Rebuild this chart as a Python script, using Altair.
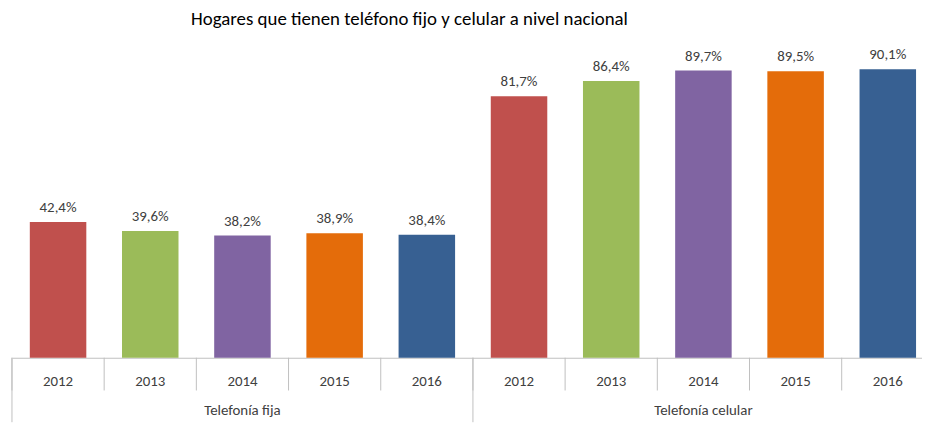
import altair as alt
import pandas as pd

# ---- data ----
groups = ["Telefonía fija"] * 5 + ["Telefonía celular"] * 5
years = ["2012", "2013", "2014", "2015", "2016"] * 2
values = [42.4, 39.6, 38.2, 38.9, 38.4, 81.7, 86.4, 89.7, 89.5, 90.1]
year_levels = ["2012", "2013", "2014", "2015", "2016"]
colors = ["#C0504D", "#9BBB59", "#8064A2", "#E46C0A", "#376092"]
title_text = "Hogares que tienen teléfono fijo y celular a nivel nacional"

df = pd.DataFrame({"group": groups, "year": years, "value": values})
df["key"] = df["group"] + " " + df["year"]
df["label"] = df["value"].map(lambda v: f"{v:.1f}".replace(".", ",") + "%")
order = list(df["key"])

FONT = "Carlito, Calibri, Open Sans, sans-serif"
H = 323
W = 930
GRID = "#BFBFBF"

xscale = alt.Scale(domain=order, paddingInner=0, paddingOuter=0)
xaxis = alt.Axis(labels=False, ticks=False, title=None, grid=False,
                 domainColor=GRID, domainWidth=1)
x = alt.X("key:N", scale=xscale, axis=xaxis)
yscale = alt.Scale(domain=[0, 100])

base = alt.Chart(df)

bars = base.mark_bar(width=57).encode(
    x=x,
    y=alt.Y("value:Q", scale=yscale, axis=None),
    color=alt.Color("year:N", scale=alt.Scale(domain=year_levels, range=colors), legend=None),
)

vlabels = base.mark_text(dy=-10, baseline="alphabetic", fontSize=15, color="#404040", font=FONT).encode(
    x=x,
    y=alt.Y("value:Q", scale=yscale, axis=None),
    text="label:N",
)

ylabels = base.mark_text(baseline="alphabetic", fontSize=15, color="#404040", font=FONT).encode(
    x=x,
    y=alt.value(H + 28),
    text="year:N",
)

glabels = base.transform_filter(alt.datum.year == "2014").mark_text(
    baseline="alphabetic", fontSize=15, color="#404040", font=FONT
).encode(
    x=x,
    y=alt.value(H + 58),
    text="group:N",
)

xr = alt.X("key:N", scale=xscale, axis=xaxis, bandPosition=0)
ticks = base.mark_rule(color=GRID, strokeWidth=1).encode(
    x=xr, y=alt.value(H), y2=alt.value(H + 33)
)
gticks = base.transform_filter(alt.datum.year == "2012").mark_rule(color=GRID, strokeWidth=1).encode(
    x=xr, y=alt.value(H), y2=alt.value(H + 65)
)

title = alt.Chart(pd.DataFrame({"t": [title_text]})).mark_text(
    baseline="alphabetic", align="center", fontSize=19, color="#000000", font=FONT
).encode(x=alt.value(401), y=alt.value(-13), text="t:N")

chart = alt.layer(bars, vlabels, ylabels, glabels, ticks, gticks, title).properties(
    width=W,
    height=H,
    autosize="none",
    padding={"left": 4, "top": 28, "right": -12, "bottom": 65},
).configure_view(stroke=None)

chart.save("out.html", embed_options={"renderer": "svg", "actions": False})
